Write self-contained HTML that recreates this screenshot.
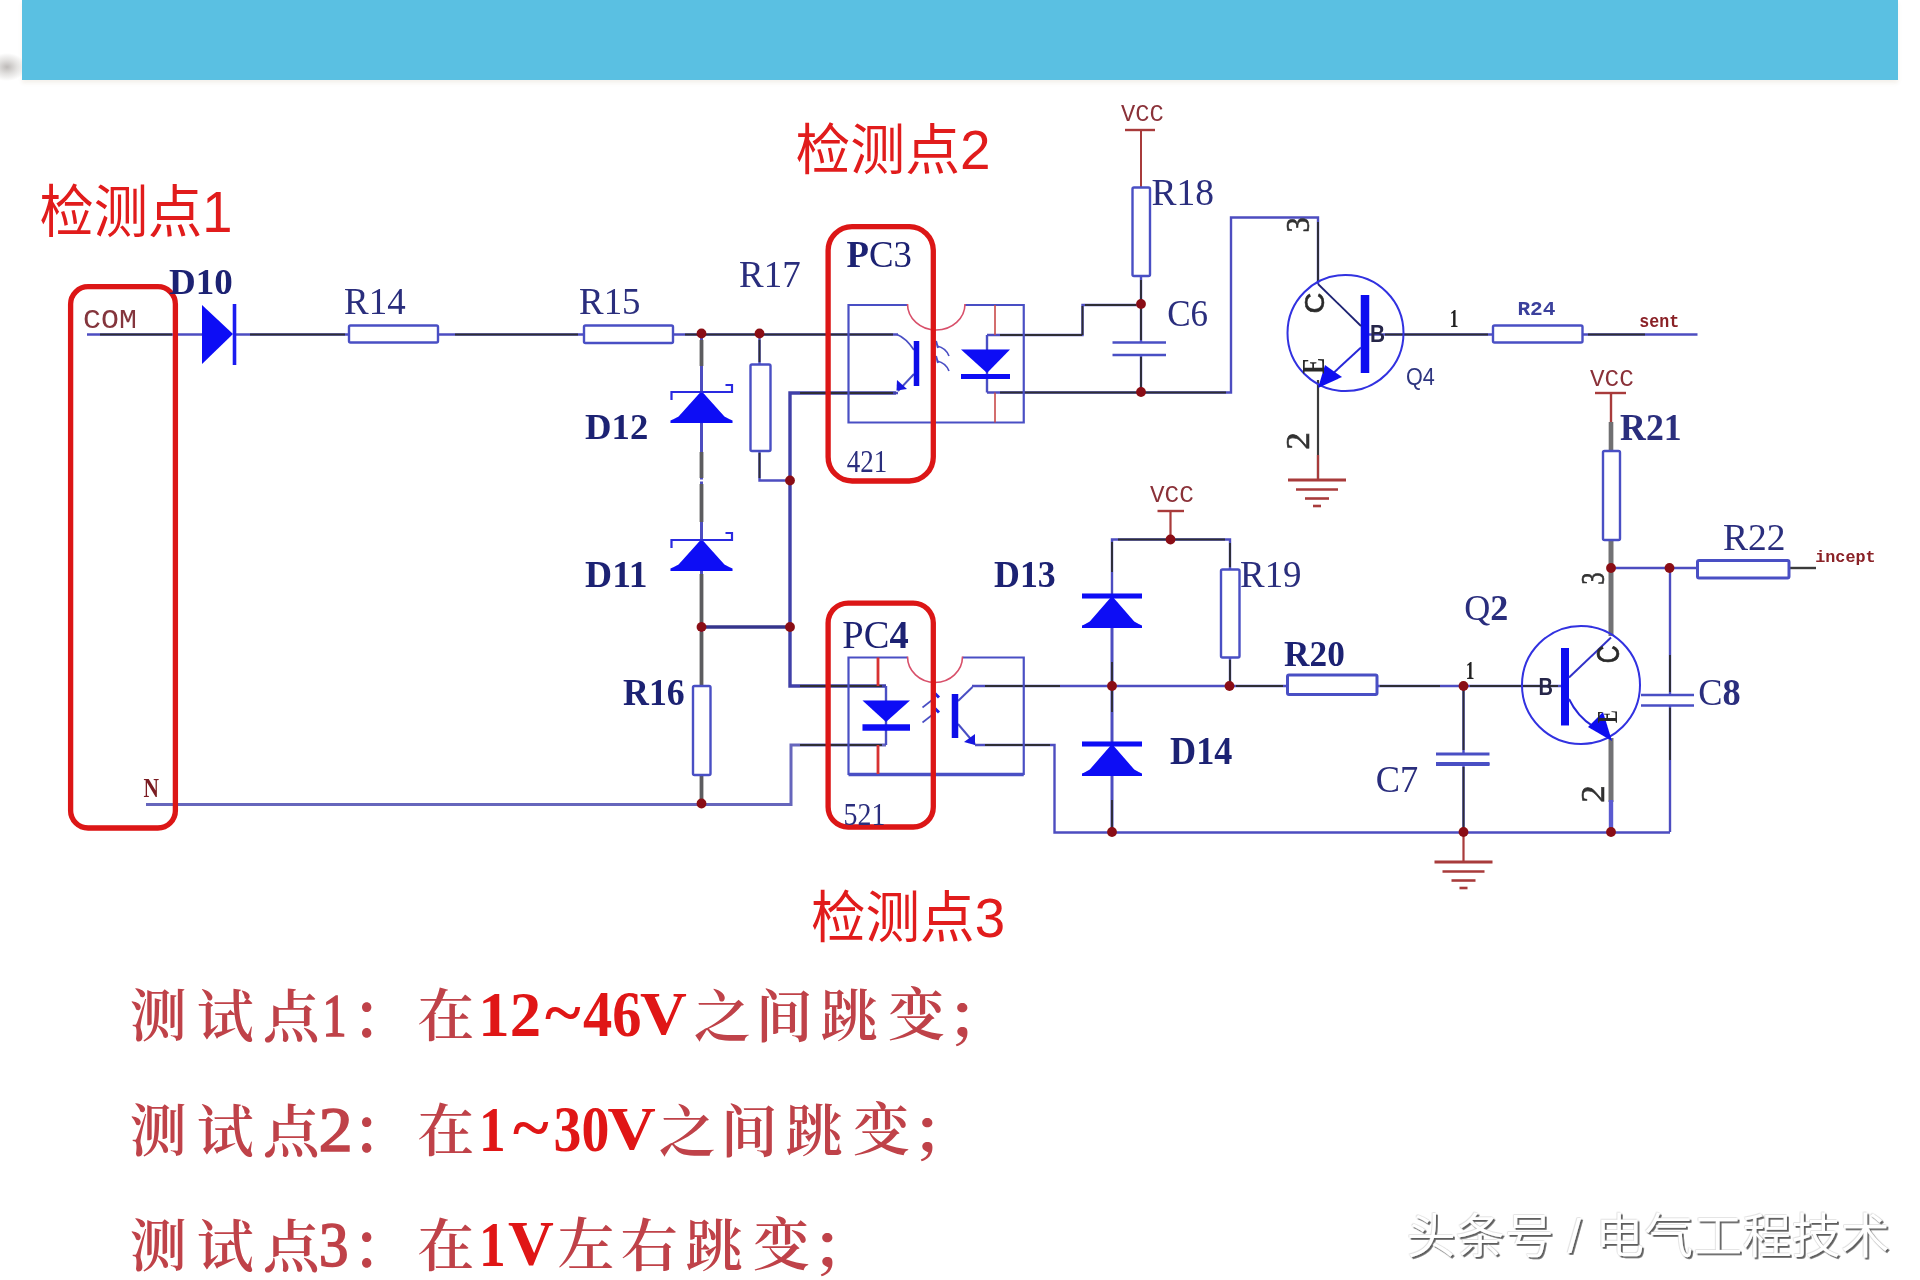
<!DOCTYPE html>
<html lang="zh-CN">
<head>
<meta charset="utf-8">
<title>检测点 电路图</title>
<style>
html,body{margin:0;padding:0;background:#fff;}
body{width:1920px;height:1280px;position:relative;overflow:hidden;font-family:"Liberation Sans","Noto Sans CJK SC",sans-serif;}
#banner{position:absolute;left:22px;top:0;width:1876px;height:80px;background:#5ac0e2;box-shadow:0 3px 4px rgba(200,185,160,.2);}
#bshadow{position:absolute;left:0;top:46px;width:24px;height:40px;background:radial-gradient(ellipse 19px 14px at 7px 21px, rgba(125,118,114,.5) 0%, rgba(150,145,140,.28) 50%, rgba(255,255,255,0) 100%);}
svg{position:absolute;left:0;top:0;}
#wm text{paint-order:normal;}
</style>
</head>
<body>
<div id="bshadow"></div>
<div id="banner"></div>
<svg width="1920" height="1280" viewBox="0 0 1920 1280">
<defs>
<filter id="soft" x="-2%" y="-2%" width="104%" height="104%"><feGaussianBlur stdDeviation="0.7"/></filter>
<filter id="soft2" x="-2%" y="-5%" width="104%" height="110%"><feGaussianBlur stdDeviation="0.65"/></filter>
<filter id="wmsh" x="-2%" y="-10%" width="104%" height="120%"><feDropShadow dx="-0.5" dy="-0.5" stdDeviation="0.5" flood-color="#aaa" flood-opacity="0.6" result="a"/><feDropShadow in="a" dx="1.8" dy="1.8" stdDeviation="0.6" flood-color="#555" flood-opacity="0.95"/></filter>
</defs>
<g id="schematic" filter="url(#soft)">
<g id="wires" fill="none">
<line x1="87" y1="334.5" x2="202" y2="334.5" stroke="#4e4ec0" stroke-width="2.4" stroke-linecap="butt" />
<line x1="236" y1="334.5" x2="349" y2="334.5" stroke="#4e4ec0" stroke-width="2.4" stroke-linecap="butt" />
<line x1="438" y1="334.5" x2="584" y2="334.5" stroke="#4e4ec0" stroke-width="2.4" stroke-linecap="butt" />
<line x1="673" y1="334.5" x2="898" y2="334.5" stroke="#4e4ec0" stroke-width="2.4" stroke-linecap="butt" />
<path d="M897,334.5 Q906,338 914,350" stroke="#4a4fc4" stroke-width="1.8" fill="none"/>
<line x1="701.5" y1="334.5" x2="701.5" y2="686" stroke="#4e4ec0" stroke-width="3" stroke-linecap="butt" />
<line x1="701.5" y1="775" x2="701.5" y2="804" stroke="#4e4ec0" stroke-width="3" stroke-linecap="butt" />
<line x1="759.5" y1="334.5" x2="759.5" y2="364.5" stroke="#4e4ec0" stroke-width="2.4" stroke-linecap="butt" />
<polyline points="759.5,451 759.5,480.5 790,480.5" stroke="#4e4ec0" stroke-width="2.4" fill="none" stroke-linejoin="miter"/>
<polyline points="896,393 790,393 790,686 886,686" stroke="#4040a8" stroke-width="3.4" fill="none" stroke-linejoin="miter"/>
<line x1="701.5" y1="627" x2="790" y2="627" stroke="#34348c" stroke-width="3.6" stroke-linecap="butt" />
<line x1="914" y1="374" x2="898" y2="391" stroke="#4a4fc4" stroke-width="2" stroke-linecap="butt" />
<line x1="898" y1="393" x2="896" y2="393" stroke="#4e4ec0" stroke-width="2.4" stroke-linecap="butt" />
<polyline points="146,804.5 791,804.5 791,745 886,745" stroke="#6666bc" stroke-width="3" fill="none" stroke-linejoin="miter"/>
<polyline points="987,335 1082.5,335 1082.5,305 1141,305" stroke="#4e4ec0" stroke-width="2.4" fill="none" stroke-linejoin="miter"/>
<line x1="987" y1="335" x2="987" y2="392.5" stroke="#4a4fc4" stroke-width="2.4" stroke-linecap="butt" />
<polyline points="987,392.5 1231,392.5 1231,217.5 1318,217.5 1318,284" stroke="#4e4ec0" stroke-width="2.4" fill="none" stroke-linejoin="miter"/>
<line x1="1141" y1="130" x2="1141" y2="187.5" stroke="#a83a3a" stroke-width="2" stroke-linecap="butt" />
<line x1="1125" y1="130" x2="1155" y2="130" stroke="#a83a3a" stroke-width="2.4" stroke-linecap="butt" />
<line x1="1141" y1="276" x2="1141" y2="342.5" stroke="#4e4ec0" stroke-width="2.4" stroke-linecap="butt" />
<line x1="1141" y1="355" x2="1141" y2="392.5" stroke="#4e4ec0" stroke-width="2.4" stroke-linecap="butt" />
<line x1="1318" y1="380" x2="1318" y2="480" stroke="#3a3a3a" stroke-width="2.2" stroke-linecap="butt" />
<line x1="1318" y1="455" x2="1318" y2="480" stroke="#a83a3a" stroke-width="2.2" stroke-linecap="butt" />
<line x1="1369" y1="334.5" x2="1493" y2="334.5" stroke="#4e4ec0" stroke-width="2.4" stroke-linecap="butt" />
<line x1="1582.5" y1="334.5" x2="1697.5" y2="334.5" stroke="#4e4ec0" stroke-width="2.4" stroke-linecap="butt" />
<line x1="1595" y1="393" x2="1626" y2="393" stroke="#a83a3a" stroke-width="2.4" stroke-linecap="butt" />
<line x1="1611" y1="393" x2="1611" y2="424" stroke="#a83a3a" stroke-width="2.4" stroke-linecap="butt" />
<line x1="1611" y1="422" x2="1611" y2="451" stroke="#707072" stroke-width="4.6" stroke-linecap="butt" />
<line x1="1611" y1="540" x2="1611" y2="636" stroke="#727274" stroke-width="5" stroke-linecap="butt" />
<line x1="1611" y1="738" x2="1611" y2="802" stroke="#727274" stroke-width="5" stroke-linecap="butt" />
<line x1="1611" y1="800" x2="1611" y2="832" stroke="#5a5ad0" stroke-width="4.4" stroke-linecap="butt" />
<polyline points="1611,568 1697.5,568" stroke="#4e4ec0" stroke-width="2.4" fill="none" stroke-linejoin="miter"/>
<line x1="1789" y1="568" x2="1816" y2="568" stroke="#3a3a3a" stroke-width="2.4" stroke-linecap="butt" />
<line x1="1670" y1="568" x2="1670" y2="695" stroke="#4e4ec0" stroke-width="2.4" stroke-linecap="butt" />
<polyline points="1670,705.5 1670,832" stroke="#4e4ec0" stroke-width="2.4" fill="none" stroke-linejoin="miter"/>
<polyline points="975,745 1054.5,745 1054.5,832.5 1670,832.5" stroke="#4e4ec0" stroke-width="2.4" fill="none" stroke-linejoin="miter"/>
<line x1="1157.5" y1="511" x2="1184" y2="511" stroke="#a83a3a" stroke-width="2.4" stroke-linecap="butt" />
<line x1="1170.5" y1="511" x2="1170.5" y2="539.5" stroke="#a83a3a" stroke-width="2.2" stroke-linecap="butt" />
<polyline points="1112,596 1112,539.5 1230,539.5 1230,569.5" stroke="#4e4ec0" stroke-width="2.4" fill="none" stroke-linejoin="miter"/>
<line x1="1230" y1="657.5" x2="1230" y2="686" stroke="#4e4ec0" stroke-width="2.4" stroke-linecap="butt" />
<line x1="1112" y1="598" x2="1112" y2="832" stroke="#4e4ec0" stroke-width="3" stroke-linecap="butt" />
<polyline points="958,701 972.5,687" stroke="#4a4fc4" stroke-width="2" fill="none" stroke-linejoin="miter"/>
<line x1="972" y1="686" x2="1287.5" y2="686" stroke="#4e4ec0" stroke-width="2.4" stroke-linecap="butt" />
<line x1="1377" y1="686" x2="1561" y2="686" stroke="#4e4ec0" stroke-width="2.4" stroke-linecap="butt" />
<line x1="958" y1="724" x2="975" y2="744" stroke="#4a4fc4" stroke-width="2" stroke-linecap="butt" />
<line x1="1463.5" y1="686" x2="1463.5" y2="754" stroke="#4e4ec0" stroke-width="2.4" stroke-linecap="butt" />
<line x1="1463.5" y1="763" x2="1463.5" y2="832" stroke="#4e4ec0" stroke-width="2.4" stroke-linecap="butt" />
<line x1="1463.5" y1="832" x2="1463.5" y2="862" stroke="#a83a3a" stroke-width="2.2" stroke-linecap="butt" />
</g>
<g id="darkcores">
<line x1="100" y1="334.5" x2="172" y2="334.5" stroke="#2e2e34" stroke-width="1.9" stroke-linecap="butt" />
<line x1="250" y1="334.5" x2="345" y2="334.5" stroke="#2e2e34" stroke-width="1.9" stroke-linecap="butt" />
<line x1="455" y1="334.5" x2="578" y2="334.5" stroke="#2e2e34" stroke-width="1.9" stroke-linecap="butt" />
<line x1="685" y1="334.5" x2="893" y2="334.5" stroke="#2e2e34" stroke-width="1.9" stroke-linecap="butt" />
<line x1="1000" y1="335" x2="1082" y2="335" stroke="#2e2e34" stroke-width="1.9" stroke-linecap="butt" />
<line x1="1082.5" y1="306" x2="1082.5" y2="335" stroke="#2e2e34" stroke-width="1.9" stroke-linecap="butt" />
<line x1="1085" y1="305" x2="1136" y2="305" stroke="#2e2e34" stroke-width="1.9" stroke-linecap="butt" />
<line x1="1000" y1="392.5" x2="1226" y2="392.5" stroke="#2e2e34" stroke-width="1.9" stroke-linecap="butt" />
<line x1="1318" y1="222" x2="1318" y2="282" stroke="#2e2e34" stroke-width="1.9" stroke-linecap="butt" />
<line x1="1385" y1="334.5" x2="1488" y2="334.5" stroke="#2e2e34" stroke-width="1.9" stroke-linecap="butt" />
<line x1="1588" y1="334.5" x2="1645" y2="334.5" stroke="#2e2e34" stroke-width="1.9" stroke-linecap="butt" />
<line x1="800" y1="393" x2="893" y2="393" stroke="#2e2e34" stroke-width="1.9" stroke-linecap="butt" />
<line x1="800" y1="686" x2="882" y2="686" stroke="#2e2e34" stroke-width="1.9" stroke-linecap="butt" />
<line x1="800" y1="745" x2="882" y2="745" stroke="#2e2e34" stroke-width="1.9" stroke-linecap="butt" />
<line x1="985" y1="686" x2="1060" y2="686" stroke="#2e2e34" stroke-width="1.9" stroke-linecap="butt" />
<line x1="1236" y1="686" x2="1283" y2="686" stroke="#2e2e34" stroke-width="1.9" stroke-linecap="butt" />
<line x1="1380" y1="686" x2="1440" y2="686" stroke="#2e2e34" stroke-width="1.9" stroke-linecap="butt" />
<line x1="1470" y1="686" x2="1558" y2="686" stroke="#2e2e34" stroke-width="1.9" stroke-linecap="butt" />
<line x1="985" y1="745" x2="1050" y2="745" stroke="#2e2e34" stroke-width="1.9" stroke-linecap="butt" />
<line x1="759.5" y1="340" x2="759.5" y2="362" stroke="#2e2e34" stroke-width="1.9" stroke-linecap="butt" />
<line x1="759.5" y1="453" x2="759.5" y2="478" stroke="#2e2e34" stroke-width="1.9" stroke-linecap="butt" />
<line x1="1141" y1="280" x2="1141" y2="340" stroke="#2e2e34" stroke-width="1.9" stroke-linecap="butt" />
<line x1="1141" y1="357" x2="1141" y2="388" stroke="#2e2e34" stroke-width="1.9" stroke-linecap="butt" />
<line x1="1112" y1="542" x2="1112" y2="572" stroke="#2e2e34" stroke-width="1.9" stroke-linecap="butt" />
<line x1="1112" y1="662" x2="1112" y2="712" stroke="#2e2e34" stroke-width="1.9" stroke-linecap="butt" />
<line x1="1112" y1="800" x2="1112" y2="828" stroke="#2e2e34" stroke-width="1.9" stroke-linecap="butt" />
<line x1="1230" y1="543" x2="1230" y2="567" stroke="#2e2e34" stroke-width="1.9" stroke-linecap="butt" />
<line x1="1230" y1="660" x2="1230" y2="684" stroke="#2e2e34" stroke-width="1.9" stroke-linecap="butt" />
<line x1="1118" y1="539.5" x2="1225" y2="539.5" stroke="#2e2e34" stroke-width="1.9" stroke-linecap="butt" />
<line x1="1463.5" y1="690" x2="1463.5" y2="750" stroke="#2e2e34" stroke-width="1.9" stroke-linecap="butt" />
<line x1="1463.5" y1="767" x2="1463.5" y2="828" stroke="#2e2e34" stroke-width="1.9" stroke-linecap="butt" />
<line x1="1670" y1="655" x2="1670" y2="692" stroke="#2e2e34" stroke-width="1.9" stroke-linecap="butt" />
<line x1="1670" y1="708" x2="1670" y2="760" stroke="#2e2e34" stroke-width="1.9" stroke-linecap="butt" />
<line x1="701.5" y1="340" x2="701.5" y2="366" stroke="#5c5c5e" stroke-width="3.8" stroke-linecap="butt" />
<line x1="701.5" y1="452" x2="701.5" y2="478" stroke="#5c5c5e" stroke-width="3.8" stroke-linecap="butt" />
<line x1="701.5" y1="484" x2="701.5" y2="522" stroke="#5c5c5e" stroke-width="3.8" stroke-linecap="butt" />
<line x1="701.5" y1="574" x2="701.5" y2="622" stroke="#5c5c5e" stroke-width="3.8" stroke-linecap="butt" />
<line x1="701.5" y1="632" x2="701.5" y2="686" stroke="#5c5c5e" stroke-width="3.8" stroke-linecap="butt" />
<line x1="701.5" y1="776" x2="701.5" y2="799" stroke="#5c5c5e" stroke-width="3.8" stroke-linecap="butt" />
<line x1="698.5" y1="480.5" x2="704.5" y2="480.5" stroke="#ffffff" stroke-width="2" stroke-linecap="butt" />
</g>
<polygon points="202,305 202,364 233,334" fill="#0a0af5"/>
<line x1="234.5" y1="304" x2="234.5" y2="365" stroke="#1c1cf0" stroke-width="3.6" stroke-linecap="butt" />
<rect x="349" y="325.5" width="89" height="17.0" rx="1.5" stroke="#4a4fc4" stroke-width="2.4" fill="#fff"/>
<rect x="584" y="325.5" width="89" height="17.5" rx="1.5" stroke="#4a4fc4" stroke-width="2.4" fill="#fff"/>
<rect x="750.5" y="364.5" width="20.0" height="86.5" rx="1.5" stroke="#4a4fc4" stroke-width="2.4" fill="#fff"/>
<rect x="693" y="686" width="17.5" height="89" rx="1.5" stroke="#4a4fc4" stroke-width="2.4" fill="#fff"/>
<rect x="1132.5" y="187.5" width="17.5" height="88.5" rx="1.5" stroke="#4a4fc4" stroke-width="2.4" fill="#fff"/>
<rect x="1493" y="325.5" width="89.5" height="17.0" rx="1.5" stroke="#4a4fc4" stroke-width="2.4" fill="#fff"/>
<rect x="1603" y="451" width="17" height="89" rx="1.5" stroke="#4a4fc4" stroke-width="2.4" fill="#fff"/>
<rect x="1697.5" y="560.5" width="91.5" height="17.5" rx="1.5" stroke="#4a4fc4" stroke-width="3" fill="#fff"/>
<rect x="1221" y="569.5" width="18.5" height="88.0" rx="1.5" stroke="#4a4fc4" stroke-width="2.4" fill="#fff"/>
<rect x="1287.5" y="675" width="89.5" height="19.5" rx="1.5" stroke="#4a4fc4" stroke-width="3" fill="#fff"/>
<path d="M701.5,391 L678.6,416.6 Q673.5,419.5 670.5,420.5 L670.5,423 L732.5,423 L732.5,420.5 Q729.5,419.5 724.4,416.6 Z" fill="#0a0af5"/>
<polyline points="671.5,400 671.5,392 732.0,392 732.0,385 725.5,385" stroke="#2a2ae0" stroke-width="2.2" fill="none" stroke-linejoin="miter"/>
<path d="M701.5,539 L678.6,564.6 Q673.5,567.5 670.5,568.5 L670.5,571 L732.5,571 L732.5,568.5 Q729.5,567.5 724.4,564.6 Z" fill="#0a0af5"/>
<polyline points="671.5,548 671.5,540 732.0,540 732.0,533 725.5,533" stroke="#2a2ae0" stroke-width="2.2" fill="none" stroke-linejoin="miter"/>
<path d="M1112,596 L1089.8,621.6 Q1085.0,624.5 1082,625.5 L1082,628 L1142,628 L1142,625.5 Q1139.0,624.5 1134.2,621.6 Z" fill="#0a0af5"/>
<line x1="1082" y1="596" x2="1142" y2="596" stroke="#0a0af5" stroke-width="5" stroke-linecap="butt" />
<path d="M1112,744 L1089.8,769.6 Q1085.0,772.5 1082,773.5 L1082,776 L1142,776 L1142,773.5 Q1139.0,772.5 1134.2,769.6 Z" fill="#0a0af5"/>
<line x1="1082" y1="744" x2="1142" y2="744" stroke="#0a0af5" stroke-width="5" stroke-linecap="butt" />
<line x1="1112.5" y1="342.5" x2="1166" y2="342.5" stroke="#4a4fc4" stroke-width="2.6" stroke-linecap="butt" />
<line x1="1112.5" y1="355" x2="1166" y2="355" stroke="#4a4fc4" stroke-width="2.6" stroke-linecap="butt" />
<line x1="1436" y1="754" x2="1489.5" y2="754" stroke="#4a4fc4" stroke-width="3" stroke-linecap="butt" />
<line x1="1436" y1="763.5" x2="1489.5" y2="763.5" stroke="#4a4fc4" stroke-width="3" stroke-linecap="butt" />
<line x1="1436" y1="764.5" x2="1489.5" y2="764.5" stroke="#4a4fc4" stroke-width="3" stroke-linecap="butt" />
<line x1="1641" y1="695" x2="1694" y2="695" stroke="#4a4fc4" stroke-width="2.6" stroke-linecap="butt" />
<line x1="1641" y1="705.5" x2="1694" y2="705.5" stroke="#4a4fc4" stroke-width="2.6" stroke-linecap="butt" />
<line x1="1288" y1="480" x2="1346" y2="480" stroke="#a83a3a" stroke-width="3" stroke-linecap="butt" />
<line x1="1296" y1="489.5" x2="1338" y2="489.5" stroke="#a83a3a" stroke-width="2.6" stroke-linecap="butt" />
<line x1="1305" y1="498.5" x2="1329" y2="498.5" stroke="#a83a3a" stroke-width="2.6" stroke-linecap="butt" />
<line x1="1313" y1="506" x2="1321" y2="506" stroke="#a83a3a" stroke-width="2.6" stroke-linecap="butt" />
<line x1="1434.5" y1="862" x2="1492.5" y2="862" stroke="#a83a3a" stroke-width="3" stroke-linecap="butt" />
<line x1="1442.5" y1="871.5" x2="1484.5" y2="871.5" stroke="#a83a3a" stroke-width="2.6" stroke-linecap="butt" />
<line x1="1451.5" y1="880.5" x2="1475.5" y2="880.5" stroke="#a83a3a" stroke-width="2.6" stroke-linecap="butt" />
<line x1="1459.5" y1="888" x2="1467.5" y2="888" stroke="#a83a3a" stroke-width="2.6" stroke-linecap="butt" />
<polyline points="907.5,305 848.5,305 848.5,422.5 1023.75,422.5 1023.75,305 965,305" stroke="#4a4fc4" stroke-width="2.2" fill="none" stroke-linejoin="miter"/>
<path d="M907.5,304 A28.75,26 0 0 0 965,304" stroke="#d8506a" stroke-width="1.6" fill="none"/>
<polyline points="907.5,657.5 848.5,657.5 848.5,774 1023.75,774 1023.75,657.5 962.5,657.5" stroke="#4a4fc4" stroke-width="2.2" fill="none" stroke-linejoin="miter"/>
<path d="M907.5,656.5 A27.5,26 0 0 0 962.5,656.5" stroke="#d8506a" stroke-width="1.6" fill="none"/>
<line x1="848.5" y1="774.5" x2="1023.75" y2="774.5" stroke="#4a4fc4" stroke-width="3.4" stroke-linecap="butt" />
<line x1="916.5" y1="341" x2="916.5" y2="386" stroke="#1010e8" stroke-width="5.5" stroke-linecap="butt" />
<polygon points="897,380 907,389 896.5,390.5" fill="#1414e0"/>
<polygon points="961,349.5 1010,349.5 987,373" fill="#0a0af5"/>
<line x1="961" y1="376.5" x2="1010" y2="376.5" stroke="#0a0af5" stroke-width="5" stroke-linecap="butt" />
<line x1="995" y1="305" x2="995" y2="335" stroke="#c84a4a" stroke-width="1.6" stroke-linecap="butt" />
<line x1="995" y1="392.5" x2="995" y2="422.5" stroke="#c84a4a" stroke-width="1.6" stroke-linecap="butt" />
<path d="M949,356 q-3,-8 -12,-10" stroke="#4a4fc4" stroke-width="1.6" fill="none"/>
<line x1="936" y1="341" x2="938" y2="348" stroke="#4a4fc4" stroke-width="2" stroke-linecap="butt" />
<path d="M949,371 q-3,-8 -12,-10" stroke="#4a4fc4" stroke-width="1.6" fill="none"/>
<line x1="936" y1="356" x2="938" y2="363" stroke="#4a4fc4" stroke-width="2" stroke-linecap="butt" />
<line x1="886" y1="686" x2="886" y2="745" stroke="#4a4fc4" stroke-width="2.4" stroke-linecap="butt" />
<polygon points="862.5,700.5 910,700.5 886,722" fill="#0a0af5"/>
<line x1="862.5" y1="727.5" x2="910" y2="727.5" stroke="#0a0af5" stroke-width="6.5" stroke-linecap="butt" />
<line x1="878" y1="657.5" x2="878" y2="686" stroke="#d83030" stroke-width="2.8" stroke-linecap="butt" />
<line x1="878" y1="745" x2="878" y2="774" stroke="#d83030" stroke-width="2.8" stroke-linecap="butt" />
<line x1="955" y1="694" x2="955" y2="738" stroke="#1010e8" stroke-width="6.5" stroke-linecap="butt" />
<polygon points="975,734 975,745 964,742" fill="#1414e0"/>
<line x1="922.5" y1="707.5" x2="934" y2="698.5" stroke="#4a4fc4" stroke-width="1.6" stroke-linecap="butt" />
<line x1="935" y1="693.5" x2="939" y2="697.5" stroke="#2020e0" stroke-width="3" stroke-linecap="butt" />
<line x1="922.5" y1="722.5" x2="934" y2="713.5" stroke="#4a4fc4" stroke-width="1.6" stroke-linecap="butt" />
<line x1="935" y1="708.5" x2="939" y2="712.5" stroke="#2020e0" stroke-width="3" stroke-linecap="butt" />
<circle cx="1345.5" cy="333" r="58" stroke="#3030e0" stroke-width="2" fill="none"/>
<line x1="1365" y1="295" x2="1365" y2="373" stroke="#1010f0" stroke-width="8.5" stroke-linecap="butt" />
<line x1="1318" y1="284" x2="1361" y2="326" stroke="#1f2273" stroke-width="1.8" stroke-linecap="butt" />
<line x1="1361" y1="347.5" x2="1328" y2="378" stroke="#2828d8" stroke-width="2" stroke-linecap="butt" />
<polygon points="1318,388 1325,365 1342,377" fill="#1010f0"/>
<circle cx="1581" cy="685" r="59" stroke="#3030e0" stroke-width="2" fill="none"/>
<line x1="1565" y1="648" x2="1565" y2="725.5" stroke="#1010f0" stroke-width="8" stroke-linecap="butt" />
<line x1="1569" y1="677.5" x2="1611" y2="637.5" stroke="#3030c8" stroke-width="2" stroke-linecap="butt" />
<path d="M1569,699 Q1580,722 1604,732" stroke="#2828d8" stroke-width="2" fill="none"/>
<polygon points="1612,741 1588,727 1603,712" fill="#1010f0"/>
<circle cx="701.5" cy="333.5" r="4.9" fill="#8a0f12"/>
<circle cx="759.5" cy="333.5" r="4.9" fill="#8a0f12"/>
<circle cx="790" cy="480.5" r="4.9" fill="#8a0f12"/>
<circle cx="701.5" cy="627" r="4.9" fill="#8a0f12"/>
<circle cx="790" cy="627" r="4.9" fill="#8a0f12"/>
<circle cx="701.5" cy="803.5" r="4.9" fill="#8a0f12"/>
<circle cx="1141" cy="304" r="4.9" fill="#8a0f12"/>
<circle cx="1141" cy="392" r="4.9" fill="#8a0f12"/>
<circle cx="1170.5" cy="539.5" r="4.9" fill="#8a0f12"/>
<circle cx="1112" cy="686" r="4.9" fill="#8a0f12"/>
<circle cx="1229.5" cy="686" r="4.9" fill="#8a0f12"/>
<circle cx="1112" cy="832" r="4.9" fill="#8a0f12"/>
<circle cx="1463.5" cy="686" r="4.9" fill="#8a0f12"/>
<circle cx="1463.5" cy="832" r="4.9" fill="#8a0f12"/>
<circle cx="1611" cy="832" r="4.9" fill="#8a0f12"/>
<circle cx="1611" cy="568" r="4.9" fill="#8a0f12"/>
<circle cx="1669.5" cy="568" r="4.9" fill="#8a0f12"/>
<rect x="70.6" y="286.7" width="104.80000000000001" height="541.3" rx="17.5" stroke="#dc1414" stroke-width="5.3" fill="none"/>
<rect x="828.1" y="226.6" width="105.19999999999993" height="254.4" rx="24" stroke="#dc1414" stroke-width="5.3" fill="none"/>
<rect x="828.1" y="603.1" width="105.19999999999993" height="223.89999999999998" rx="20" stroke="#dc1414" stroke-width="5.3" fill="none"/>
<text transform="translate(201.00 282.50) scale(0.9254 0.8846) translate(-34.50 13.00)" font-family='"Liberation Serif", serif' font-size="40" font-weight="bold" fill="#1f2273" >D10</text>
<text transform="translate(375.00 302.00) scale(0.9231 0.9231) translate(-33.50 13.00)" font-family='"Liberation Serif", serif' font-size="40" font-weight="normal" fill="#2a2d7d" >R14</text>
<text transform="translate(609.50 302.00) scale(0.9219 0.9231) translate(-33.00 13.00)" font-family='"Liberation Serif", serif' font-size="40" font-weight="normal" fill="#2a2d7d" >R15</text>
<text transform="translate(770.00 275.00) scale(0.9231 0.9615) translate(-33.50 13.00)" font-family='"Liberation Serif", serif' font-size="40" font-weight="normal" fill="#2a2d7d" >R17</text>
<text transform="translate(616.75 427.75) scale(0.9179 0.9038) translate(-34.50 13.00)" font-family='"Liberation Serif", serif' font-size="40" font-weight="bold" fill="#1f2273" >D12</text>
<text transform="translate(616.00 575.00) scale(0.9375 0.9231) translate(-33.00 13.00)" font-family='"Liberation Serif", serif' font-size="40" font-weight="bold" fill="#1f2273" >D11</text>
<text transform="translate(654.00 692.50) scale(0.8955 0.9615) translate(-34.50 13.00)" font-family='"Liberation Serif", serif' font-size="40" font-weight="bold" fill="#1f2273" >R16</text>
<text transform="translate(879.25 254.50) scale(0.9203 0.9231) translate(-35.50 13.00)" font-family='"Liberation Serif", serif' font-size="40" font-weight="normal" fill="#1f2273" ><tspan font-weight="bold">P</tspan>C3</text>
<text transform="translate(876.02 635.25) scale(0.9625 0.9808) translate(-35.00 13.00)" font-family='"Liberation Serif", serif' font-size="40" font-weight="normal" fill="#1f2273" >PC<tspan font-weight="bold">4</tspan></text>
<text transform="translate(866.75 461.25) scale(0.6754 0.7885) translate(-29.50 13.00)" font-family='"Liberation Serif", serif' font-size="40" font-weight="normal" fill="#2a2d7d" >421</text>
<text transform="translate(864.50 814.25) scale(0.6964 0.7885) translate(-30.00 13.00)" font-family='"Liberation Serif", serif' font-size="40" font-weight="normal" fill="#2a2d7d" >521</text>
<text transform="translate(1182.50 193.00) scale(0.9375 0.9231) translate(-33.00 13.00)" font-family='"Liberation Serif", serif' font-size="40" font-weight="normal" fill="#2a2d7d" >R18</text>
<text transform="translate(1188.25 313.50) scale(0.8750 0.9615) translate(-24.00 13.00)" font-family='"Liberation Serif", serif' font-size="40" font-weight="normal" fill="#2a2d7d" >C6</text>
<text transform="translate(1025.00 574.50) scale(0.8955 0.9231) translate(-34.50 13.00)" font-family='"Liberation Serif", serif' font-size="40" font-weight="bold" fill="#1f2273" >D13</text>
<text transform="translate(1270.50 575.00) scale(0.9219 0.9615) translate(-33.00 13.00)" font-family='"Liberation Serif", serif' font-size="40" font-weight="normal" fill="#2a2d7d" >R19</text>
<text transform="translate(1314.50 655.00) scale(0.8806 0.8846) translate(-34.50 13.00)" font-family='"Liberation Serif", serif' font-size="40" font-weight="bold" fill="#1f2273" >R20</text>
<text transform="translate(1201.75 751.00) scale(0.9044 1.0000) translate(-35.00 13.00)" font-family='"Liberation Serif", serif' font-size="40" font-weight="bold" fill="#1f2273" >D14</text>
<text transform="translate(1397.50 780.00) scale(0.9091 0.9615) translate(-24.00 13.00)" font-family='"Liberation Serif", serif' font-size="40" font-weight="normal" fill="#2a2d7d" >C7</text>
<text transform="translate(1720.00 692.50) scale(0.9091 0.9615) translate(-24.00 13.00)" font-family='"Liberation Serif", serif' font-size="40" font-weight="normal" fill="#2a2d7d" >C<tspan font-weight="bold">8</tspan></text>
<text transform="translate(1486.75 610.50) scale(0.9022 0.9062) translate(-25.00 10.00)" font-family='"Liberation Serif", serif' font-size="40" font-weight="normal" fill="#2a2d7d" >Q<tspan font-weight="bold">2</tspan></text>
<text transform="translate(1650.50 428.00) scale(0.8939 0.9231) translate(-34.00 13.00)" font-family='"Liberation Serif", serif' font-size="40" font-weight="bold" fill="#2a2d7d" >R21</text>
<text transform="translate(1754.00 538.00) scale(0.9375 0.9231) translate(-33.00 13.00)" font-family='"Liberation Serif", serif' font-size="40" font-weight="normal" fill="#2a2d7d" >R22</text>
<text transform="translate(1537.00 308.00) scale(0.5294 0.5185) translate(-37.00 13.50)" font-family='"Liberation Mono", monospace' font-size="40" font-weight="bold" fill="#3a3f9c" >R24</text>
<text transform="translate(1420.50 379.00) scale(0.5400 0.5833) translate(-27.00 10.00)" font-family='"Liberation Sans", sans-serif' font-size="40" font-weight="normal" fill="#2e3580" >Q4</text>
<text transform="translate(110.00 318.50) scale(0.7471 0.7037) translate(-36.00 13.50)" font-family='"Liberation Mono", monospace' font-size="40" font-weight="normal" fill="#84363c" >COM</text>
<text transform="translate(151.50 788.50) scale(0.5357 0.6923) translate(-15.00 13.00)" font-family='"Liberation Serif", serif' font-size="40" font-weight="bold" fill="#7a1c20" >N</text>
<text transform="translate(1141.75 113.00) scale(0.5929 0.5926) translate(-35.00 13.50)" font-family='"Liberation Mono", monospace' font-size="40" font-weight="normal" fill="#8a3038" >VCC</text>
<text transform="translate(1611.25 377.75) scale(0.6071 0.6111) translate(-35.00 13.50)" font-family='"Liberation Mono", monospace' font-size="40" font-weight="normal" fill="#8a3038" >VCC</text>
<text transform="translate(1171.25 494.25) scale(0.6071 0.6111) translate(-35.00 13.50)" font-family='"Liberation Mono", monospace' font-size="40" font-weight="normal" fill="#8a3038" >VCC</text>
<text transform="translate(1658.75 321.50) scale(0.4167 0.4444) translate(-47.00 13.50)" font-family='"Liberation Mono", monospace' font-size="40" font-weight="bold" fill="#8a2026" >sent</text>
<text transform="translate(1845.00 557.25) scale(0.4203 0.4342) translate(-71.00 11.00)" font-family='"Liberation Mono", monospace' font-size="40" font-weight="bold" fill="#8a2026" >incept</text>
<text transform="translate(1454.25 319.00) scale(0.4333 0.6154) translate(-10.50 13.00)" font-family='"Liberation Serif", serif' font-size="40" font-weight="bold" fill="#222" >1</text>
<text transform="translate(1470.25 671.00) scale(0.4333 0.6538) translate(-10.50 13.00)" font-family='"Liberation Serif", serif' font-size="40" font-weight="bold" fill="#222" >1</text>
<text transform="translate(1377.75 333.25) scale(0.5208 0.5893) translate(-15.00 14.00)" font-family='"Liberation Sans", sans-serif' font-size="40" font-weight="bold" fill="#26264a" >B</text>
<text transform="translate(1546.00 686.25) scale(0.5000 0.5893) translate(-15.00 14.00)" font-family='"Liberation Sans", sans-serif' font-size="40" font-weight="bold" fill="#26264a" >B</text>
<text transform="translate(1298.00 224.50) rotate(-90) scale(0.7647 0.8462) translate(-10.50 13.00)" font-family='"Liberation Serif", serif' font-size="40" font-weight="normal" fill="#303030" stroke="#303030" stroke-width="0.7">3</text>
<text transform="translate(1298.25 441.00) rotate(-90) scale(0.8750 0.8269) translate(-10.00 13.00)" font-family='"Liberation Serif", serif' font-size="40" font-weight="normal" fill="#303030" stroke="#303030" stroke-width="0.7">2</text>
<text transform="translate(1593.00 578.25) rotate(-90) scale(0.6176 0.8462) translate(-10.50 13.00)" font-family='"Liberation Serif", serif' font-size="40" font-weight="normal" fill="#303030" stroke="#303030" stroke-width="0.7">3</text>
<text transform="translate(1593.00 794.00) rotate(-90) scale(0.8750 0.8462) translate(-10.00 13.00)" font-family='"Liberation Serif", serif' font-size="40" font-weight="normal" fill="#303030" stroke="#303030" stroke-width="0.7">2</text>
<text transform="translate(1314.50 303.00) rotate(-90) scale(0.7200 0.6786) translate(-14.50 14.00)" font-family='"Liberation Sans", sans-serif' font-size="40" font-weight="normal" fill="#2a2a2a" stroke="#2a2a2a" stroke-width="0.8">C</text>
<text transform="translate(1313.75 366.25) rotate(-90) scale(0.6042 0.7885) translate(-13.00 13.00)" font-family='"Liberation Serif", serif' font-size="40" font-weight="bold" fill="#2a2a2a" >E</text>
<text transform="translate(1608.00 654.25) rotate(-90) scale(0.6200 0.7857) translate(-14.50 14.00)" font-family='"Liberation Sans", sans-serif' font-size="40" font-weight="normal" fill="#2a2a2a" stroke="#2a2a2a" stroke-width="0.8">C</text>
<text transform="translate(1607.00 716.75) rotate(-90) scale(0.4792 0.7308) translate(-13.00 13.00)" font-family='"Liberation Serif", serif' font-size="40" font-weight="bold" fill="#2a2a2a" >E</text>
</g>
<g id="captions" filter="url(#soft2)">
<text transform="translate(136.00 209.75) scale(1.0053 1.0490) translate(-96.00 21.50)" font-family='"Liberation Sans", "Noto Sans CJK SC", sans-serif' font-size="54" font-weight="normal" fill="#e11a1a" >检测点1</text>
<text transform="translate(892.50 147.00) scale(1.0160 1.0196) translate(-95.50 21.50)" font-family='"Liberation Sans", "Noto Sans CJK SC", sans-serif' font-size="54" font-weight="normal" fill="#e11a1a" >检测点2</text>
<text transform="translate(908.00 914.50) scale(1.0106 1.0392) translate(-96.00 21.50)" font-family='"Liberation Sans", "Noto Sans CJK SC", sans-serif' font-size="54" font-weight="normal" fill="#e11a1a" >检测点3</text>
<text transform="translate(158.25 1014.60) scale(1.0000 1.0000) translate(-28.50 21.00)" font-family='"Liberation Serif", "Noto Serif CJK SC", serif' font-size="57" font-weight="600" fill="#bf4248" >测</text>
<text transform="translate(225.85 1015.00) scale(1.0000 1.0000) translate(-29.00 21.50)" font-family='"Liberation Serif", "Noto Serif CJK SC", serif' font-size="57" font-weight="600" fill="#bf4248" >试</text>
<text transform="translate(291.25 1015.35) scale(1.0000 1.0000) translate(-28.50 21.50)" font-family='"Liberation Serif", "Noto Serif CJK SC", serif' font-size="57" font-weight="600" fill="#bf4248" >点</text>
<text transform="translate(445.85 1014.25) scale(1.0000 1.0000) translate(-28.50 21.50)" font-family='"Liberation Serif", "Noto Serif CJK SC", serif' font-size="57" font-weight="600" fill="#bf4248" >在</text>
<text transform="translate(335.00 1016.00) scale(1.2000 1.5385) translate(-10.50 13.00)" font-family='"Liberation Serif", serif' font-size="40" font-weight="normal" fill="#bf4248" stroke="#bf4248" stroke-width="1.1">1</text>
<text transform="translate(366.75 1020.25) scale(1.0556 1.1094) translate(-14.50 17.00)" font-family='"Liberation Serif", "Noto Serif CJK SC", serif' font-size="57" font-weight="600" fill="#bf4248" >：</text>
<text transform="translate(511.25 1014.75) scale(1.5694 1.5962) translate(-21.00 13.00)" font-family='"Liberation Serif", serif' font-size="40" font-weight="bold" fill="#e01414" >12</text>
<text transform="translate(563.00 1013.75) scale(1.7143 1.5625) translate(-10.50 13.00)" font-family='"Liberation Serif", serif' font-size="40" font-weight="bold" fill="#e01414" >~</text>
<text transform="translate(611.50 1015.00) scale(1.4615 1.6154) translate(-19.50 13.00)" font-family='"Liberation Serif", serif' font-size="40" font-weight="bold" fill="#e01414" >46</text>
<text transform="translate(663.50 1015.50) scale(1.6207 1.5185) translate(-14.50 12.50)" font-family='"Liberation Serif", serif' font-size="40" font-weight="bold" fill="#e01414" >V</text>
<text transform="translate(722.35 1014.50) scale(1.0000 1.0000) translate(-28.50 22.00)" font-family='"Liberation Serif", "Noto Serif CJK SC", serif' font-size="57" font-weight="600" fill="#bf4248" >之</text>
<text transform="translate(785.25 1015.75) scale(1.0000 1.0000) translate(-29.50 21.50)" font-family='"Liberation Serif", "Noto Serif CJK SC", serif' font-size="57" font-weight="600" fill="#bf4248" >间</text>
<text transform="translate(849.25 1014.50) scale(1.0000 1.0000) translate(-28.50 21.50)" font-family='"Liberation Serif", "Noto Serif CJK SC", serif' font-size="57" font-weight="600" fill="#bf4248" >跳</text>
<text transform="translate(916.50 1013.35) scale(1.0000 1.0000) translate(-28.50 21.50)" font-family='"Liberation Serif", "Noto Serif CJK SC", serif' font-size="57" font-weight="600" fill="#bf4248" >变</text>
<text transform="translate(961.75 1024.25) scale(1.1500 1.0610) translate(-14.00 12.50)" font-family='"Liberation Serif", "Noto Serif CJK SC", serif' font-size="57" font-weight="600" fill="#bf4248" >；</text>
<text transform="translate(158.25 1129.60) scale(1.0000 1.0000) translate(-28.50 21.00)" font-family='"Liberation Serif", "Noto Serif CJK SC", serif' font-size="57" font-weight="600" fill="#bf4248" >测</text>
<text transform="translate(225.85 1130.00) scale(1.0000 1.0000) translate(-29.00 21.50)" font-family='"Liberation Serif", "Noto Serif CJK SC", serif' font-size="57" font-weight="600" fill="#bf4248" >试</text>
<text transform="translate(291.25 1130.35) scale(1.0000 1.0000) translate(-28.50 21.50)" font-family='"Liberation Serif", "Noto Serif CJK SC", serif' font-size="57" font-weight="600" fill="#bf4248" >点</text>
<text transform="translate(445.85 1129.25) scale(1.0000 1.0000) translate(-28.50 21.50)" font-family='"Liberation Serif", "Noto Serif CJK SC", serif' font-size="57" font-weight="600" fill="#bf4248" >在</text>
<text transform="translate(335.50 1130.50) scale(1.6875 1.5769) translate(-10.00 13.00)" font-family='"Liberation Serif", serif' font-size="40" font-weight="normal" fill="#bf4248" stroke="#bf4248" stroke-width="1.1">2</text>
<text transform="translate(366.75 1135.25) scale(1.0556 1.1094) translate(-14.50 17.00)" font-family='"Liberation Serif", "Noto Serif CJK SC", serif' font-size="57" font-weight="600" fill="#bf4248" >：</text>
<text transform="translate(493.00 1129.75) scale(1.3333 1.5962) translate(-10.50 13.00)" font-family='"Liberation Serif", serif' font-size="40" font-weight="bold" fill="#e01414" >1</text>
<text transform="translate(531.00 1128.75) scale(1.7143 1.5625) translate(-10.50 13.00)" font-family='"Liberation Serif", serif' font-size="40" font-weight="bold" fill="#e01414" >~</text>
<text transform="translate(581.50 1129.75) scale(1.3947 1.6346) translate(-20.00 13.00)" font-family='"Liberation Serif", serif' font-size="40" font-weight="bold" fill="#e01414" >30</text>
<text transform="translate(631.75 1130.25) scale(1.6724 1.5370) translate(-14.50 12.50)" font-family='"Liberation Serif", serif' font-size="40" font-weight="bold" fill="#e01414" >V</text>
<text transform="translate(687.35 1129.50) scale(1.0000 1.0000) translate(-28.50 22.00)" font-family='"Liberation Serif", "Noto Serif CJK SC", serif' font-size="57" font-weight="600" fill="#bf4248" >之</text>
<text transform="translate(750.25 1130.75) scale(1.0000 1.0000) translate(-29.50 21.50)" font-family='"Liberation Serif", "Noto Serif CJK SC", serif' font-size="57" font-weight="600" fill="#bf4248" >间</text>
<text transform="translate(814.25 1129.50) scale(1.0000 1.0000) translate(-28.50 21.50)" font-family='"Liberation Serif", "Noto Serif CJK SC", serif' font-size="57" font-weight="600" fill="#bf4248" >跳</text>
<text transform="translate(881.50 1128.35) scale(1.0000 1.0000) translate(-28.50 21.50)" font-family='"Liberation Serif", "Noto Serif CJK SC", serif' font-size="57" font-weight="600" fill="#bf4248" >变</text>
<text transform="translate(926.75 1139.25) scale(1.1500 1.0610) translate(-14.00 12.50)" font-family='"Liberation Serif", "Noto Serif CJK SC", serif' font-size="57" font-weight="600" fill="#bf4248" >；</text>
<text transform="translate(158.25 1244.60) scale(1.0000 1.0000) translate(-28.50 21.00)" font-family='"Liberation Serif", "Noto Serif CJK SC", serif' font-size="57" font-weight="600" fill="#bf4248" >测</text>
<text transform="translate(225.85 1245.00) scale(1.0000 1.0000) translate(-29.00 21.50)" font-family='"Liberation Serif", "Noto Serif CJK SC", serif' font-size="57" font-weight="600" fill="#bf4248" >试</text>
<text transform="translate(291.25 1245.35) scale(1.0000 1.0000) translate(-28.50 21.50)" font-family='"Liberation Serif", "Noto Serif CJK SC", serif' font-size="57" font-weight="600" fill="#bf4248" >点</text>
<text transform="translate(445.85 1244.25) scale(1.0000 1.0000) translate(-28.50 21.50)" font-family='"Liberation Serif", "Noto Serif CJK SC", serif' font-size="57" font-weight="600" fill="#bf4248" >在</text>
<text transform="translate(334.50 1245.50) scale(1.4706 1.5769) translate(-10.50 13.00)" font-family='"Liberation Serif", serif' font-size="40" font-weight="normal" fill="#bf4248" stroke="#bf4248" stroke-width="1.1">3</text>
<text transform="translate(366.75 1250.25) scale(1.0556 1.1094) translate(-14.50 17.00)" font-family='"Liberation Serif", "Noto Serif CJK SC", serif' font-size="57" font-weight="600" fill="#bf4248" >：</text>
<text transform="translate(493.00 1244.75) scale(1.3333 1.5962) translate(-10.50 13.00)" font-family='"Liberation Serif", serif' font-size="40" font-weight="bold" fill="#e01414" >1</text>
<text transform="translate(531.00 1245.75) scale(1.5862 1.5741) translate(-14.50 12.50)" font-family='"Liberation Serif", serif' font-size="40" font-weight="bold" fill="#e01414" >V</text>
<text transform="translate(586.00 1242.00) scale(1.0000 1.0000) translate(-28.50 23.00)" font-family='"Liberation Serif", "Noto Serif CJK SC", serif' font-size="57" font-weight="600" fill="#bf4248" >左</text>
<text transform="translate(649.25 1244.00) scale(1.0000 1.0000) translate(-28.50 22.00)" font-family='"Liberation Serif", "Noto Serif CJK SC", serif' font-size="57" font-weight="600" fill="#bf4248" >右</text>
<text transform="translate(714.25 1244.50) scale(1.0000 1.0000) translate(-28.50 21.50)" font-family='"Liberation Serif", "Noto Serif CJK SC", serif' font-size="57" font-weight="600" fill="#bf4248" >跳</text>
<text transform="translate(781.50 1243.35) scale(1.0000 1.0000) translate(-28.50 21.50)" font-family='"Liberation Serif", "Noto Serif CJK SC", serif' font-size="57" font-weight="600" fill="#bf4248" >变</text>
<text transform="translate(826.75 1254.25) scale(1.1500 1.0610) translate(-14.00 12.50)" font-family='"Liberation Serif", "Noto Serif CJK SC", serif' font-size="57" font-weight="600" fill="#bf4248" >；</text>
</g>
<g id="wm" filter="url(#wmsh)">
<text transform="translate(1648.75 1235.00) scale(1.0246 1.0000) translate(-236.50 18.00)" font-family='"Liberation Sans", "Noto Sans CJK SC", sans-serif' font-size="48" font-weight="350" fill="#ffffff" >头条号 / 电气工程技术</text>
</g>
</svg>
</body>
</html>
